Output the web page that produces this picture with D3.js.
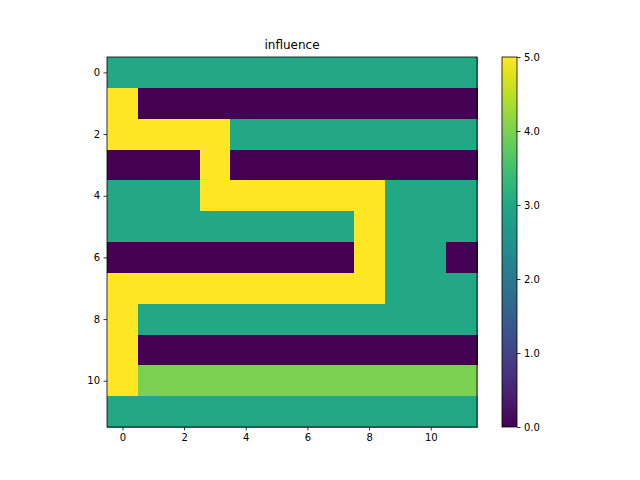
<!DOCTYPE html>
<html><head><meta charset="utf-8">
<script src="https://cdn.jsdelivr.net/npm/d3@7"></script>
<style>body{margin:0;background:#fff}text{font-family:"DejaVu Sans",sans-serif}</style>
</head><body><svg id="c" width="640" height="480"></svg>
<script>
const rows = [
 [3,3,3,3,3,3,3,3,3,3,3,3],
 [5,0,0,0,0,0,0,0,0,0,0,0],
 [5,5,5,5,3,3,3,3,3,3,3,3],
 [0,0,0,5,0,0,0,0,0,0,0,0],
 [3,3,3,5,5,5,5,5,5,3,3,3],
 [3,3,3,3,3,3,3,3,5,3,3,3],
 [0,0,0,0,0,0,0,0,5,3,3,0],
 [5,5,5,5,5,5,5,5,5,3,3,3],
 [5,3,3,3,3,3,3,3,3,3,3,3],
 [5,0,0,0,0,0,0,0,0,0,0,0],
 [5,4,4,4,4,4,4,4,4,4,4,4],
 [3,3,3,3,3,3,3,3,3,3,3,3]
];
const xTicks=[0,2,4,6,8,10], yTicks=[0,2,4,6,8,10], cbTicks=[0,1,2,3,4,5];
const title="influence";
const svg=d3.select("#c");
const L=107,R=477,T=57,B=427;
const x=d3.scaleLinear().domain([-0.5,11.5]).range([L,R]);
const y=d3.scaleLinear().domain([-0.5,11.5]).range([T,B]);
const col=v=>d3.interpolateViridis(v/5);
const cells=[];rows.forEach((r,i)=>r.forEach((v,j)=>cells.push({i,j,v})));
svg.append("g").selectAll("rect").data(cells).join("rect")
 .attr("x",d=>x(d.j-0.5)).attr("y",d=>y(d.i-0.5))
 .attr("width",x(1)-x(0)+0.5).attr("height",y(1)-y(0)+0.5)
 .attr("fill",d=>col(d.v)).attr("shape-rendering","crispEdges");
svg.append("rect").attr("x",L).attr("y",T).attr("width",R-L).attr("height",B-T).attr("fill","none").attr("stroke","#000").attr("stroke-width",0.8);
const ax=svg.append("g").attr("transform",`translate(0,${B})`).call(d3.axisBottom(x).tickValues(xTicks).tickSize(3.5).tickPadding(3.5));
const ay=svg.append("g").attr("transform",`translate(${L},0)`).call(d3.axisLeft(y).tickValues(yTicks).tickSize(3.5).tickPadding(3.5));
[ax,ay].forEach(a=>{a.select(".domain").remove();a.selectAll("text").attr("font-size",10).attr("fill","#000");a.selectAll("line").attr("stroke","#000").attr("stroke-width",0.8);});
svg.append("text").attr("x",(L+R)/2).attr("y",49).attr("text-anchor","middle").attr("font-size",12).text(title);
// colorbar
const cx=502,cw=15;
const defs=svg.append("defs");
const g=defs.append("linearGradient").attr("id","vg").attr("x1",0).attr("y1",1).attr("x2",0).attr("y2",0);
d3.range(0,1.001,0.05).forEach(t=>g.append("stop").attr("offset",t).attr("stop-color",d3.interpolateViridis(t)));
svg.append("rect").attr("x",cx).attr("y",T).attr("width",cw).attr("height",B-T).attr("fill","url(#vg)").attr("stroke","#000").attr("stroke-width",0.8);
const cy=d3.scaleLinear().domain([0,5]).range([B,T]);
const ac=svg.append("g").attr("transform",`translate(${cx+cw},0)`).call(d3.axisRight(cy).tickValues(cbTicks).tickSize(3.5).tickPadding(3.5));
ac.select(".domain").remove();ac.selectAll("text").attr("font-size",10).attr("fill","#000");ac.selectAll("line").attr("stroke","#000").attr("stroke-width",0.8);
</script></body></html>
